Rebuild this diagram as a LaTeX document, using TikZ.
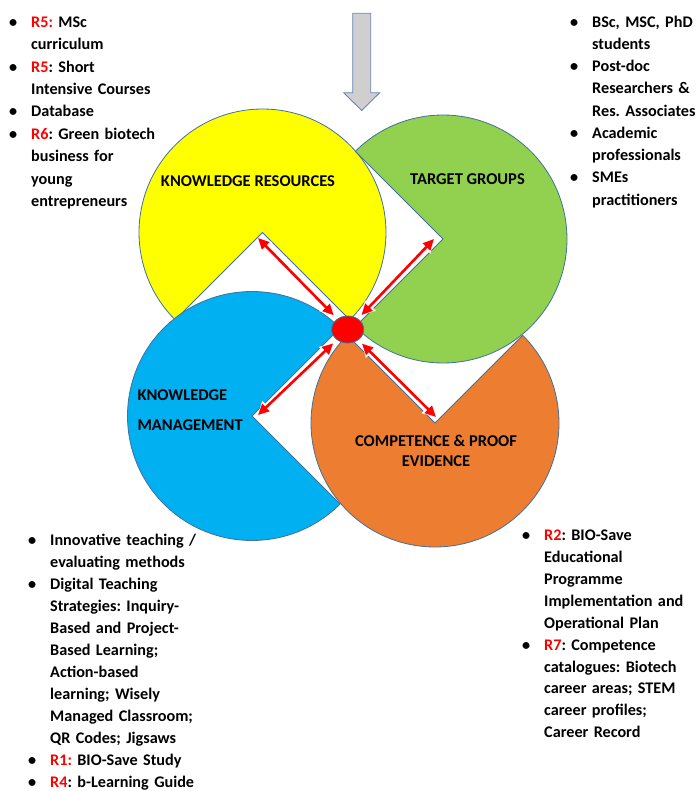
\documentclass[tikz,border=0pt]{standalone}
\usepackage{fontspec}
\setmainfont{Carlito}
\usetikzlibrary{arrows.meta,shapes.geometric}
\definecolor{resyellow}{HTML}{FFFF00}
\definecolor{tgtgreen}{HTML}{92D050}
\definecolor{mgmtblue}{HTML}{00B0F0}
\definecolor{comporange}{HTML}{ED7D31}
\definecolor{rimblue}{HTML}{41719C}
\definecolor{arrowgray}{HTML}{D0CECE}
\definecolor{arrowrim}{HTML}{6A86B5}
\definecolor{tagred}{HTML}{FF0000}
\frenchspacing
\newcommand{\bul}{\par\noindent\strut\llap{\textbullet\hspace{14bp}}}
\newcommand{\rtag}[1]{\textcolor{tagred}{#1}}

\begin{document}
\begin{tikzpicture}[x=1bp,y=-1bp,
	blob/.style={draw=rimblue, line width=0.8bp},
	blobtitle/.style={font=\bfseries\fontsize{16.5bp}{20bp}\selectfont, inner sep=0pt},
	bulletlist/.style={font=\bfseries\fontsize{16.2bp}{22.2bp}\selectfont, text width=200bp, inner sep=0pt, anchor=north west, align=left},
	twoway/.style={tagred, line width=2.6bp, shorten >=5bp, shorten <=0bp,
		{Triangle[length=11bp,width=10bp]}-{Triangle[length=11bp,width=10bp]},
		preaction={draw=white, line width=5.5bp, {Triangle[length=13bp,width=14bp]}-{Triangle[length=13bp,width=14bp]}}}]
	\useasboundingbox[fill=white] (0,0) rectangle (698,791);

	% centres of the four blocks
	\coordinate (res) at (262.5,232.5);
	\coordinate (tgt) at (443,239);
	\coordinate (mgmt) at (252,416);
	\coordinate (comp) at (435,423);

	% incoming arrow
	\filldraw[fill=arrowgray, draw=arrowrim, line width=0.9bp] (352.7,13.3) -- (370.7,13.3) -- (370.7,92.7) -- (379.7,92.7) -- (361.7,110.5) -- (343.7,92.7) -- (352.7,92.7) -- cycle;

	% the four blocks
	\filldraw[blob, fill=resyellow] (res) -- ++(135:123.5) arc[start angle=135, end angle=405, radius=123.5] -- cycle;
	\filldraw[blob, fill=tgtgreen] (tgt) -- ++(225:124) arc[start angle=225, end angle=495, radius=124] -- cycle;
	\filldraw[blob, fill=comporange] (comp) -- ++(315:124) arc[start angle=315, end angle=585, radius=124] -- cycle;
	\filldraw[blob, fill=mgmtblue] (mgmt) -- ++(45:124.5) arc[start angle=45, end angle=315, radius=124.5] -- cycle;

	\node[blobtitle, anchor=base] (res-title) at (248,186) {KNOWLEDGE RESOURCES};
	\node[blobtitle, anchor=base] (tgt-title) at (467.5,184) {TARGET GROUPS};
	\node[blobtitle, anchor=north west, align=left] (mgmt-title) at (137.3,389) {KNOWLEDGE\\[10.7bp]MANAGEMENT};
	\node[blobtitle, anchor=north, align=center] (comp-title) at (436,435) {COMPETENCE \& PROOF\\EVIDENCE};

	% hub and links
	\node[ellipse, fill=tagred, draw=rimblue, line width=0.8bp, minimum width=32bp, minimum height=27bp, inner sep=0pt] (hub) at (347.7,329.5) {};
	\coordinate (res-tip) at (258,238);
	\coordinate (tgt-tip) at (434,239);
	\coordinate (mgmt-tip) at (258,415);
	\coordinate (comp-tip) at (436,417);
	\draw[twoway] (res-tip) -- (hub);
	\draw[twoway] (tgt-tip) -- (hub);
	\draw[twoway] (mgmt-tip) -- (hub);
	\draw[twoway] (comp-tip) -- (hub);

	% lists
	\node[bulletlist, font=\bfseries\fontsize{16.2bp}{22.4bp}\selectfont] (res-list) at (13,4.8) {\leftskip=18bp
		\bul \rtag{R5:} MSc\\curriculum
		\bul \rtag{R5}: Short\\Intensive Courses
		\bul Database
		\bul \rtag{R6}: Green biotech\\business for\\young\\entrepreneurs\par};
	\node[bulletlist] (tgt-list) at (574,5) {\leftskip=18bp
		\bul BSc, MSC, PhD\\students
		\bul Post-doc\\Researchers \&\\Res. Associates
		\bul Academic\\professionals
		\bul SMEs\\practitioners\par};
	\node[bulletlist, font=\bfseries\fontsize{16.2bp}{22bp}\selectfont] (mgmt-list) at (32,523.5) {\leftskip=18bp
		\bul Innovative teaching /\\evaluating methods
		\bul Digital Teaching\\Strategies: Inquiry-\\Based and Project-\\Based Learning;\\Action-based\\learning; Wisely\\Managed Classroom;\\QR Codes; Jigsaws
		\bul \rtag{R1:} BIO-Save Study
		\bul \rtag{R4}: b-Learning Guide\par};
	\node[bulletlist, font=\bfseries\fontsize{16.2bp}{21.9bp}\selectfont] (comp-list) at (526,518.5) {\leftskip=18bp
		\bul \rtag{R2}: BIO-Save\\Educational\\Programme\\Implementation and\\Operational Plan
		\bul \rtag{R7}: Competence\\catalogues: Biotech\\career areas; STEM\\career profiles;\\Career Record\par};
\end{tikzpicture}
\end{document}
